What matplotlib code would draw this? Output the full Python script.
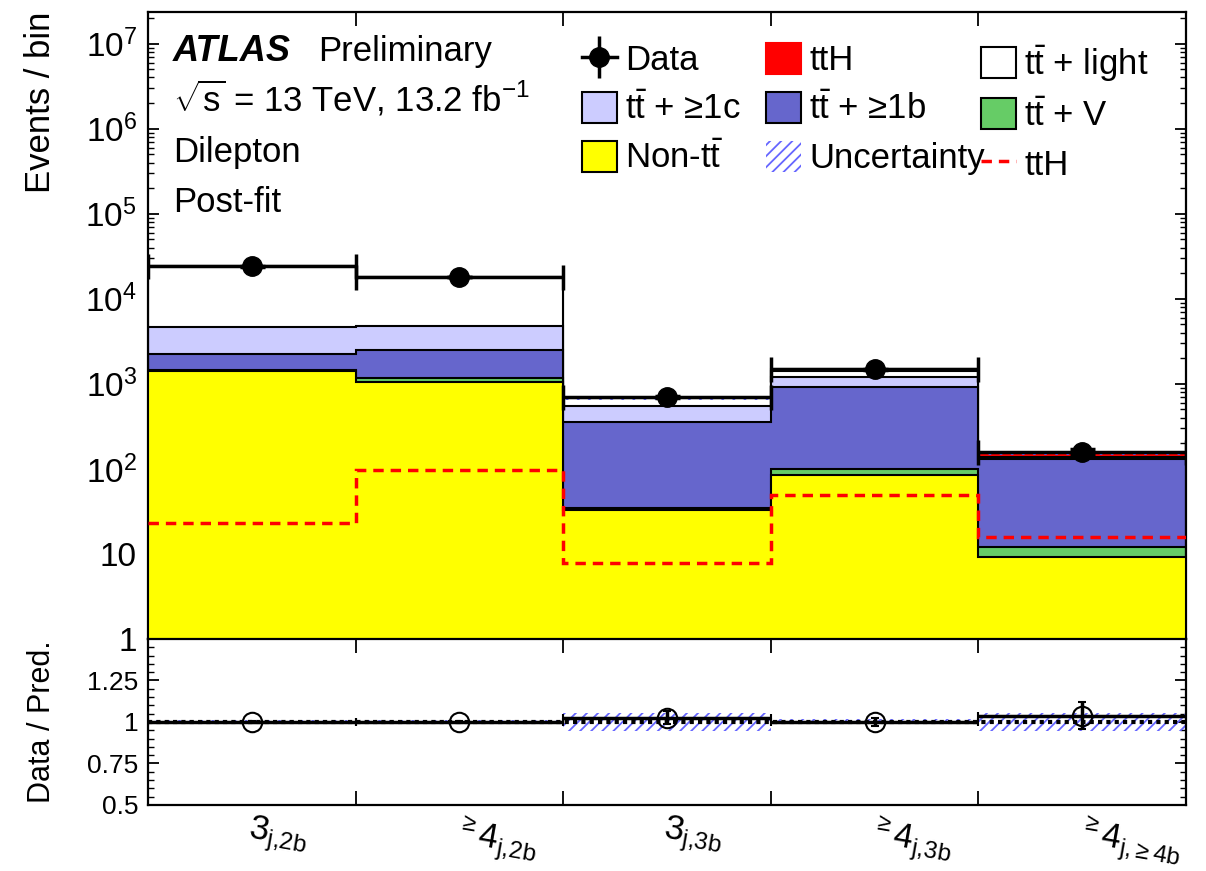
# -*- coding: utf-8 -*-
"""
ATLAS ttH dilepton post-fit yields per region, with data/prediction ratio
"""
import numpy as np
import matplotlib
matplotlib.use('Agg')
import matplotlib.pyplot as plt
from matplotlib.patches import Patch
from matplotlib.lines import Line2D
from matplotlib.ticker import LogLocator, NullFormatter, MultipleLocator

###############################################################################
# data:

regions = [r'$3_{\mathrm{j{,}2b}}$', r'$^{\geq}4_{\mathrm{j{,}2b}}$', r'$3_{\mathrm{j{,}3b}}$',
           r'$^{\geq}4_{\mathrm{j{,}3b}}$', r'$^{\geq}4_{\mathrm{j{,}}{\geq}\mathrm{4b}}$']
data = [24000, 18100, 700, 1475, 159]
non_tt = [1420, 1050, 32.8, 84, 9.1]
tt_v = [15, 120, 2.2, 17, 3.1]
tt_b = [815, 1296, 322, 816, 117]
tt_c = [2460, 2334, 186, 283, 3]
tt_light = [19267, 13202, 132, 226, 5]
tth = [23, 98, 7.8, 49, 16]
unc_rel = [0.012, 0.012, 0.055, 0.015, 0.055]

###############################################################################
# style:

plt.rcParams['font.family'] = ['Liberation Sans', 'DejaVu Sans']
plt.rcParams['mathtext.fontset'] = 'custom'
plt.rcParams['mathtext.rm'] = 'Liberation Sans'
plt.rcParams['mathtext.it'] = 'Liberation Sans:italic'
plt.rcParams['mathtext.bf'] = 'Liberation Sans:bold'
plt.rcParams['hatch.linewidth'] = 1.3
plt.rcParams['axes.linewidth'] = 1.6

c_tth = '#ff0000'
c_light = '#ffffff'
c_ttc = '#ccccff'
c_ttb = '#6666cc'
c_ttv = '#66cc66'
c_nontt = '#ffff00'
c_unc = '#6666ff'
tbar = r'$\mathrm{t\bar{t}}$'
hatch = '///'

fs = 25

###############################################################################
# the plot:

fig = plt.figure(figsize=(12.06, 8.71), dpi=100)
ax = fig.add_axes([0.1227, 0.2664, 0.8607, 0.7199])
axr = fig.add_axes([0.1227, 0.0758, 0.8607, 0.1906])

edges = np.arange(len(regions) + 1)
centers = edges[:-1] + 0.5

stack = [non_tt, tt_v, tt_b, tt_c, tt_light, tth]
colors = [c_nontt, c_ttv, c_ttb, c_ttc, c_light, c_tth]
cum = np.cumsum(np.array(stack, dtype=float), axis=0)
total = cum[-1]
unc = np.array(unc_rel)

# stacked histograms, drawn from the top down
for i in reversed(range(len(stack))):
    ax.stairs(cum[i], edges, baseline=1e-3, fill=True, facecolor=colors[i],
              edgecolor='black', lw=1.5, zorder=2 + (len(stack) - i) * 0.1)

ax.stairs(total * (1 + unc), edges, baseline=total * (1 - unc), fill=True,
          facecolor='none', edgecolor=c_unc, hatch=hatch, lw=0, zorder=4)

ax.stairs(tth, edges, baseline=None, color=c_tth, ls=(0, (3, 2)), lw=2.5, zorder=5)

ax.errorbar(centers, data, xerr=0.5, yerr=np.sqrt(data), fmt='o', color='black',
            ms=14, elinewidth=2.5, capsize=9, capthick=2.5, zorder=10)

ax.set_yscale('log')
ax.set_ylim(1, 2.36e7)
ax.set_xlim(0, len(regions))
ax.set_yticks(10.0 ** np.arange(8),
              ['1', '10'] + [r'$10^{%d}$' % k for k in range(2, 8)])
ax.yaxis.set_minor_locator(LogLocator(base=10, subs=np.arange(2, 10), numticks=30))
ax.yaxis.set_minor_formatter(NullFormatter())
ax.set_xticks(edges)
ax.tick_params(which='both', direction='in', top=True, right=True,
               labelbottom=False, labelsize=24, pad=8)
ax.tick_params(axis='y', which='major', length=8, width=1.3)
ax.tick_params(axis='y', which='minor', length=4, width=1.0)
ax.tick_params(axis='x', which='major', length=10, width=1.3)
ax.set_ylabel('Events / bin', fontsize=fs, loc='top')
ax.yaxis.set_label_coords(-0.088, 1.0)

# labels:
fig.text(0.1434, 1 - 61 / 871, 'ATLAS', fontsize=fs + 1, fontweight='bold',
         style='italic', va='baseline')
fig.text(0.2637, 1 - 61 / 871, 'Preliminary', fontsize=fs, va='baseline')
fig.text(0.1434, 1 - 112 / 871, r'$\sqrt{\mathrm{s}}$ = 13 TeV, 13.2 fb$^{-1}$',
         fontsize=fs, va='baseline')
fig.text(0.1434, 1 - 162 / 871, 'Dilepton', fontsize=fs, va='baseline')
fig.text(0.1434, 1 - 212 / 871, 'Post-fit', fontsize=fs, va='baseline')

# legend, one column at a time:
def box(c):
    return Patch(facecolor=c, edgecolor='black', lw=1.5)

data_key = (Line2D([], [], color='black', lw=2.5),
            Line2D([], [], color='black', marker='|', ms=30, mew=2.5, ls='none'),
            Line2D([], [], color='black', marker='o', ms=14, ls='none'))

columns = [
    ([data_key, box(c_ttc), box(c_nontt)],
     ['Data', tbar + ' + ≥1c', 'Non-' + tbar], 582),
    ([Patch(facecolor=c_tth, edgecolor=c_tth, lw=1.5), box(c_ttb),
      Patch(facecolor='none', edgecolor=c_unc, hatch=hatch, lw=0)],
     ['ttH', tbar + ' + ≥1b', 'Uncertainty'], 766),
    ([box(c_light), box(c_ttv), Line2D([], [], color=c_tth, ls=(0, (3, 2)), lw=2.5)],
     [tbar + ' + light', tbar + ' + V', 'ttH'], 981),
]
for handles, labels, x0 in columns:
    fig.legend(handles, labels, loc='upper left',
               bbox_to_anchor=(x0 / 1206, 1 - 43 / 871), frameon=False,
               fontsize=fs, handlelength=1.0, handleheight=1.0,
               handletextpad=0.25, labelspacing=0.42, borderpad=0,
               borderaxespad=0)

###############################################################################
# ratio panel:

ratio = np.array(data) / total
ratio_err = np.sqrt(data) / total

axr.stairs(1 + unc, edges, baseline=1 - unc, fill=True, facecolor='none',
           edgecolor=c_unc, hatch=hatch, lw=0, zorder=2)
axr.axhline(1, color='black', ls=(0, (1, 1)), lw=3, zorder=3)
axr.errorbar(centers, ratio, xerr=0.5, yerr=ratio_err, fmt='o', mfc='none', mec='black',
             mew=1.5, ms=14, color='black', elinewidth=2.5, capsize=3, capthick=2,
             zorder=5)

axr.set_xlim(0, len(regions))
axr.set_ylim(0.5, 1.5)
axr.set_yticks([0.5, 0.75, 1, 1.25, 1.5], ['0.5', '0.75', '1', '1.25', ''])
axr.yaxis.set_minor_locator(MultipleLocator(0.05))
axr.set_xticks(edges)
axr.set_xticklabels([''] * len(edges))
axr.set_xticks(centers, minor=True)
axr.set_xticklabels(regions, minor=True, rotation=-10, ha='left', va='top',
                    rotation_mode='anchor')
axr.tick_params(which='both', direction='in', top=True, right=True, labelsize=19, pad=7)
axr.tick_params(axis='y', which='major', length=8, width=1.3)
axr.tick_params(axis='y', which='minor', length=4, width=1.0)
axr.tick_params(axis='x', which='major', length=10, width=1.3)
axr.tick_params(axis='x', which='minor', length=0, pad=5, labelsize=25)
axr.set_ylabel('Data / Pred.', fontsize=22)
axr.yaxis.set_label_coords(-0.088, 0.5)

plt.savefig('out.png', dpi=100)
